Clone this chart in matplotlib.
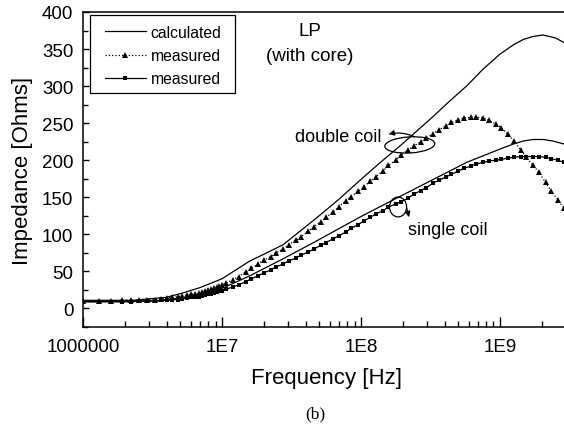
#!/usr/bin/env python3
# impedance vs frequency, LP coil with core
import matplotlib
matplotlib.use("Agg")
import matplotlib.pyplot as plt
from matplotlib.patches import Ellipse, Rectangle
from matplotlib.ticker import FixedLocator, FixedFormatter, LogLocator, NullFormatter, MultipleLocator
import numpy as np

plt.rcParams['font.family'] = ['Liberation Sans', 'DejaVu Sans']

# calculated curves (log10 of frequency in Hz, impedance in Ohms)
calc_double_logf = [6.00, 6.36, 6.60, 6.72, 6.84, 7.00, 7.10, 7.20, 7.30, 7.44, 7.56, 7.68, 7.84,
                    8.00, 8.14, 8.28, 8.40, 8.52, 8.64, 8.76, 8.88, 9.00, 9.10, 9.17, 9.24,
                    9.31, 9.40, 9.46]
calc_double_z = [11, 11, 15, 21, 28, 40, 52, 64, 73, 86, 104, 122, 147,
                 174, 197, 219, 239, 259, 280, 300, 323, 343, 356, 363, 367,
                 369, 365, 359]

calc_single_logf = [6.00, 6.50, 6.70, 6.85, 7.00, 7.20, 7.44, 7.68, 8.00, 8.28, 8.52, 8.76,
                    9.00, 9.10, 9.17, 9.24, 9.31, 9.38, 9.46]
calc_single_z = [9, 10, 14, 19, 27, 44, 67, 91, 124, 151, 174, 197,
                 215, 222, 226, 228, 228, 226, 222]

# measured points, frequency in MHz
meas_freq_mhz = [1.0, 1.3, 1.6, 1.9, 2.2, 2.55, 2.9, 3.3, 3.65, 4.0, 4.4, 4.8, 5.2, 5.6, 6.0,
                 6.4, 6.8, 7.2, 7.6, 8.0, 8.4, 8.8, 9.2, 9.6, 10.0,
                 10.7, 12.0, 13.2, 14.8, 16.2, 18.2, 20.0, 22.4, 24.5, 27.5, 30.2, 33.9, 37.2,
                 41.7, 45.7, 51.3, 56.2, 63.1, 69.2, 77.6, 85.1, 95.5, 105, 117, 129, 145,
                 158, 178, 195, 219, 240, 269, 295, 331, 363, 407, 447, 501, 550, 617, 676,
                 759, 832, 933, 1023, 1148, 1259, 1413, 1549, 1738, 1905, 2138, 2344, 2630, 2884]
meas_double_z = [10, 10, 10, 11, 11, 11, 12, 12, 13, 14, 15, 16, 17, 18, 19,
                 20, 21, 22, 23, 25, 26, 27, 29, 30, 32,
                 34, 39, 43, 49, 54, 60, 65, 70, 75, 80, 86, 92, 97,
                 104, 110, 117, 123, 130, 137, 145, 151, 158, 164, 172, 178, 186,
                 193, 200, 207, 214, 219, 225, 230, 236, 241, 246, 251, 254, 257, 258, 258,
                 257, 254, 249, 244, 235, 226, 214, 204, 193, 184, 170, 158, 146, 136]
meas_single_z = [9, 9, 9, 9, 9, 10, 10, 10, 11, 11, 12, 12, 13, 14, 15,
                 16, 16, 17, 18, 19, 20, 21, 22, 23, 24,
                 26, 29, 32, 36, 40, 44, 48, 52, 56, 60, 64, 68, 72,
                 76, 80, 85, 89, 94, 98, 103, 108, 113, 118, 123, 128, 132,
                 137, 141, 144, 149, 154, 159, 163, 169, 173, 177, 181, 185, 189, 192, 195,
                 197, 199, 200, 201, 203, 204, 205, 205, 205, 205, 204, 202, 200, 197]

xtick_pos = [1e6, 1e7, 1e8, 1e9]
xtick_labels = ["1000000", "1E7", "1E8", "1E9"]


def main():
    fig = plt.figure(figsize=(5.64, 4.27), dpi=100)
    ax = fig.add_axes([83/564, 1 - 328/427, 487/564, 315/427])

    meas_f = np.array(meas_freq_mhz) * 1e6
    ax.plot(10**np.array(calc_double_logf), calc_double_z, '-', color='black', lw=0.9, label='calculated')
    ax.plot(meas_f, meas_double_z, ':', color='black', lw=0.9, marker='^',
            ms=4.5, mew=0, label='measured')
    ax.plot(meas_f, meas_single_z, '-', color='black', lw=0.9, marker='s',
            ms=3, mew=0, label='measured')
    ax.plot(10**np.array(calc_single_logf), calc_single_z, '-', color='black', lw=0.9)

    ax.set_xscale('log')
    ax.set_xlim(1e6, 3.2e9)
    ax.set_ylim(-25, 400)

    ax.xaxis.set_major_locator(FixedLocator(xtick_pos))
    ax.xaxis.set_major_formatter(FixedFormatter(xtick_labels))
    ax.xaxis.set_minor_locator(LogLocator(base=10, subs=np.arange(2, 10)))
    ax.xaxis.set_minor_formatter(NullFormatter())
    ax.yaxis.set_major_locator(MultipleLocator(50))
    ax.yaxis.set_minor_locator(MultipleLocator(25))

    ax.tick_params(which='both', direction='in', top=False, right=False, labelsize=13.5, width=1)
    ax.tick_params(axis='x', which='major', length=7, pad=8)
    ax.tick_params(axis='x', which='minor', length=4.5)
    ax.tick_params(axis='y', which='major', length=4.5, pad=7)
    ax.tick_params(axis='y', which='minor', length=3.5)
    for s in ax.spines.values():
        s.set_linewidth(1.1)
    ax.spines['right'].set_visible(False)

    ax.set_xlabel("Frequency [Hz]", fontsize=16, labelpad=8.5)
    ax.set_ylabel("Impedance [Ohms]", fontsize=16, labelpad=6)

    # legend with a plain square box drawn separately
    ax.legend(loc='upper left', bbox_to_anchor=(0.0452, 0.959), borderaxespad=0, borderpad=0,
              fontsize=11.3, handlelength=2.6, handletextpad=0.3, frameon=False,
              labelspacing=0.52)
    ax.add_patch(Rectangle((0.0144, 0.743), 0.2978, 0.247, transform=ax.transAxes,
                           fill=False, lw=0.9, edgecolor='black', zorder=5))

    ax.text(0.466, 0.942, "LP", transform=ax.transAxes, ha='center', va='center', fontsize=13.5)
    ax.text(0.466, 0.863, "(with core)", transform=ax.transAxes, ha='center', va='center', fontsize=13.5)

    # double coil lasso + arrow
    ax.add_patch(Ellipse((0.671, 0.578), 0.103, 0.051, angle=6, transform=ax.transAxes,
                         fill=False, color='black', lw=0.9))
    ax.annotate('', xy=(0.622, 0.610), xytext=(0.686, 0.600), xycoords='axes fraction',
                arrowprops=dict(arrowstyle='-|>', color='black', lw=0.9,
                                connectionstyle='arc3,rad=0.2', mutation_scale=8))
    ax.text(0.612, 0.604, "double coil", transform=ax.transAxes, ha='right', va='center', fontsize=13)

    # single coil lasso + arrow
    ax.add_patch(Ellipse((0.647, 0.381), 0.035, 0.063, transform=ax.transAxes,
                         fill=False, color='black', lw=0.9))
    ax.annotate('', xy=(0.671, 0.340), xytext=(0.663, 0.387), xycoords='axes fraction',
                arrowprops=dict(arrowstyle='-|>', color='black', lw=0.9, mutation_scale=8))
    ax.text(0.667, 0.311, "single coil", transform=ax.transAxes, ha='left', va='center', fontsize=13)

    fig.text(315/564, 1 - 414/427, "(b)", ha='center', va='center', fontsize=12.5,
             family=['Liberation Serif', 'DejaVu Serif'])

    fig.savefig("out.png", dpi=100)


if __name__ == '__main__':
    main()
